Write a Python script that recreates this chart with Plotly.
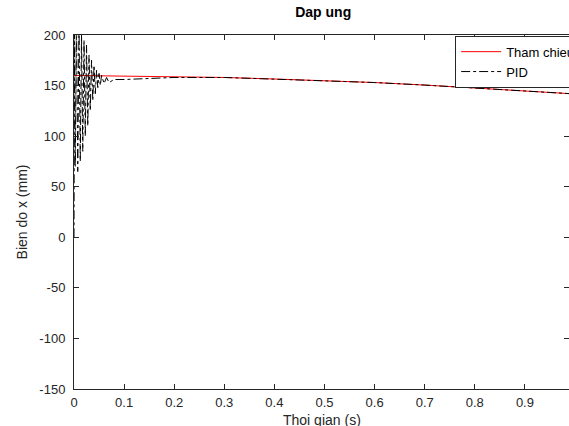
import plotly.graph_objects as go

# Reference trajectory (Tham chieu)
t_ref = [0.0, 0.1, 0.2, 0.3, 0.4, 0.5, 0.6, 0.7, 0.8, 0.9, 0.99]
x_ref = [160, 159.5, 159, 158, 156.5, 155, 153, 150.5, 147.5, 145, 142]

# PID response
t_pid = [0.0, 0.0012, 0.0025, 0.005, 0.0075, 0.01, 0.0125, 0.015, 0.0175, 0.02,
         0.0225, 0.025, 0.0275, 0.03, 0.0325, 0.035, 0.0375, 0.04, 0.0425, 0.045,
         0.0475, 0.05, 0.0525, 0.055, 0.06, 0.065, 0.07, 0.08, 0.1, 0.15, 0.2,
         0.3, 0.4, 0.5, 0.6, 0.7, 0.8, 0.9, 0.99]
x_pid = [0, 210, 70, 215, 65, 210, 75, 200, 85, 195,
         100, 190, 110, 180, 125, 175, 135, 170, 142, 165,
         148, 162, 150, 160, 152, 158, 153, 156, 156, 157, 158,
         158, 156.5, 155, 153, 150.5, 147.5, 145, 142]

x_ticks = [0, 0.1, 0.2, 0.3, 0.4, 0.5, 0.6, 0.7, 0.8, 0.9]
x_tick_text = ["0", "0.1", "0.2", "0.3", "0.4", "0.5", "0.6", "0.7", "0.8", "0.9"]
y_ticks = [-150, -100, -50, 0, 50, 100, 150, 200]
y_tick_text = ["-150", "-100", "-50", "0", "50", "100", "150", "200"]

fig = go.Figure()
fig.add_trace(go.Scatter(x=t_ref, y=x_ref, mode="lines", name="Tham chieu",
                         line=dict(color="#ff0000", width=1)))
fig.add_trace(go.Scatter(x=t_pid, y=x_pid, mode="lines", name="PID",
                         line=dict(color="black", width=1, dash="dashdot")))

axis_common = dict(showgrid=False, zeroline=False, showline=True, linecolor="#262626",
                   linewidth=1, ticks="inside", ticklen=5, tickcolor="#262626",
                   mirror="allticks", automargin=False,
                   tickfont=dict(size=13, color="#262626"))

fig.update_layout(
    width=569, height=426,
    margin=dict(l=74, r=0, t=35, b=37, autoexpand=False),
    paper_bgcolor="white", plot_bgcolor="white",
    font=dict(family="Liberation Sans, Arial, sans-serif", color="black"),
    title=dict(text="<b>Dap ung</b>", x=0.568, xanchor="center", y=0.972,
               yanchor="middle", font=dict(size=14, color="black")),
    xaxis=dict(range=[0, 0.988], tickvals=x_ticks, ticktext=x_tick_text,
               ticklabelstandoff=1, **axis_common),
    yaxis=dict(range=[-150, 200], tickvals=y_ticks, ticktext=y_tick_text,
               ticklabelstandoff=5,
               title=dict(text="Bien do x (mm)", standoff=8, font=dict(size=14, color="#262626")),
               **axis_common),
    legend=dict(x=0.77, y=0.998, xanchor="left", yanchor="top",
                bgcolor="white", bordercolor="#262626", borderwidth=1,
                font=dict(size=13, color="black"), itemwidth=40,
                tracegroupgap=0),
    showlegend=True,
)

fig.add_annotation(text="Thoi gian (s)", xref="paper", yref="paper",
                   x=0.5, y=-(420 - 389) / 354, xanchor="center", yanchor="middle",
                   showarrow=False, font=dict(size=14, color="#262626"))

fig.write_html("out.html")
